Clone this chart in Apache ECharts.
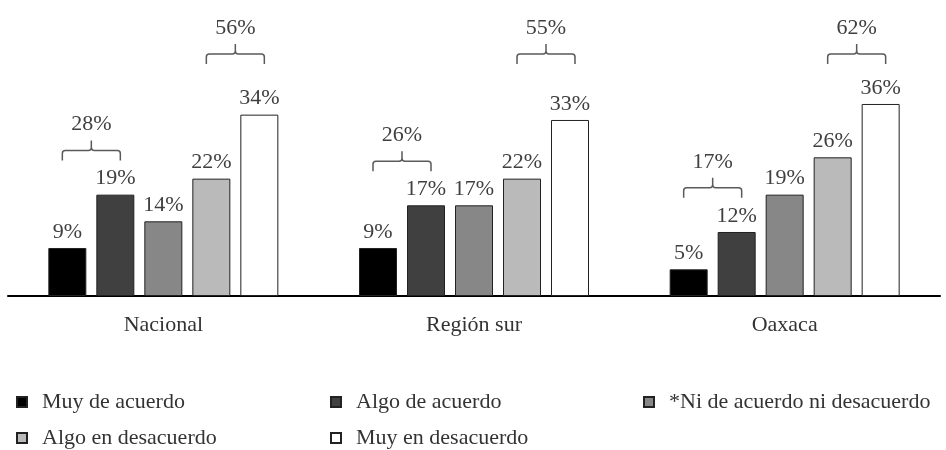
<!doctype html>
<html>
<head>
<meta charset="utf-8">
<title></title>
<script src="https://cdn.jsdelivr.net/npm/echarts@6/dist/echarts.min.js"></script>
<style>
  html, body { margin: 0; padding: 0; background: #fff; }
</style>
</head>
<body>
<div id="chart" style="width: 946px; height: 450px;"></div>
<script>
// data
var categories = ['Nacional', 'Región sur', 'Oaxaca'];
var muyAcuerdo = [9, 9, 5];
var algoAcuerdo = [19, 17, 12];
var niNi = [14, 17, 19];
var algoDesacuerdo = [22, 22, 26];
var muyDesacuerdo = [34, 33, 36];
// totals shown above the braces
var totalAcuerdo = [28, 26, 17];
var totalDesacuerdo = [56, 55, 62];

var seriesNames = ['Muy de acuerdo', 'Algo de acuerdo', '*Ni de acuerdo ni desacuerdo', 'Algo en desacuerdo', 'Muy en desacuerdo'];
var seriesValues = [muyAcuerdo, algoAcuerdo, niNi, algoDesacuerdo, muyDesacuerdo];
var colors = ['#000000', '#404040', '#878787', '#bababa', '#ffffff'];

var FONT = '"Liberation Serif", "DejaVu Serif", serif';
var BAR_W = 38, BAR_STEP = 48;

var chart = echarts.init(document.getElementById('chart'));

// braces: [category, level, first bar of the pair, total]
var braceData = [];
categories.forEach(function (c, i) {
    braceData.push([i, Math.max(muyAcuerdo[i], algoAcuerdo[i]) + 6.4, 0, totalAcuerdo[i]]);
    braceData.push([i, 43.5, 3, totalDesacuerdo[i]]);
});

function renderBrace(params, api) {
    var p = api.coord([api.value(0), api.value(1)]);
    var first = api.value(2);
    var x1 = p[0] + (first - 2) * BAR_STEP - 5;
    var x2 = p[0] + (first - 1) * BAR_STEP + 5;
    var xm = (x1 + x2) / 2;
    var yb = p[1], yh = yb - 10, yt = yb - 20, r = 3;
    var d = 'M' + x1 + ' ' + yb + ' L' + x1 + ' ' + (yh + r) +
        ' Q' + x1 + ' ' + yh + ' ' + (x1 + r) + ' ' + yh +
        ' L' + (xm - r) + ' ' + yh +
        ' Q' + xm + ' ' + yh + ' ' + xm + ' ' + (yh - r) +
        ' L' + xm + ' ' + yt +
        ' M' + xm + ' ' + (yh - r) +
        ' Q' + xm + ' ' + yh + ' ' + (xm + r) + ' ' + yh +
        ' L' + (x2 - r) + ' ' + yh +
        ' Q' + x2 + ' ' + yh + ' ' + x2 + ' ' + (yh + r) +
        ' L' + x2 + ' ' + yb;
    return {
        type: 'group',
        children: [
            { type: 'path', shape: { pathData: d }, style: { stroke: '#5a5a5a', lineWidth: 1.5, fill: null } },
            { type: 'text', style: { text: api.value(3) + '%', x: xm, y: yt - 16, align: 'center', verticalAlign: 'middle', font: '22px ' + FONT, fill: '#404040' } }
        ]
    };
}

var series = seriesNames.map(function (name, k) {
    return {
        name: name,
        type: 'bar',
        barWidth: BAR_W,
        barGap: (100 * (BAR_STEP - BAR_W) / BAR_W) + '%',
        data: seriesValues[k],
        itemStyle: { color: colors[k], borderColor: '#222', borderWidth: 1 },
        label: {
            show: true, position: 'top', distance: 5,
            formatter: '{c}%',
            fontFamily: FONT, fontSize: 22, color: '#404040'
        }
    };
});
series.push({
    type: 'custom',
    silent: true,
    renderItem: renderBrace,
    encode: { x: 0, y: 1 },
    data: braceData,
    z: 5
});

function legendCol(left, names) {
    return {
        left: left, top: 391, orient: 'vertical', padding: 0,
        itemWidth: 10, itemHeight: 10, itemGap: 14,
        selectedMode: false, icon: 'rect',
        data: names,
        textStyle: { fontFamily: FONT, fontSize: 22, lineHeight: 22, color: '#333', padding: [0, 0, 0, 10] }
    };
}

var option = {
    animation: false,
    grid: { left: 8, right: 6, top: 29.3, bottom: 154 },
    legend: [
        legendCol(16, [seriesNames[0], seriesNames[3]]),
        legendCol(330, [seriesNames[1], seriesNames[4]]),
        legendCol(643, [seriesNames[2]])
    ],
    xAxis: {
        type: 'category',
        data: categories,
        axisLine: { lineStyle: { color: '#000', width: 2 } },
        axisTick: { show: false },
        axisLabel: { fontFamily: FONT, fontSize: 22, color: '#333', margin: 18 }
    },
    yAxis: { type: 'value', min: 0, max: 50, show: false },
    series: series
};

chart.setOption(option);
</script>
</body>
</html>
